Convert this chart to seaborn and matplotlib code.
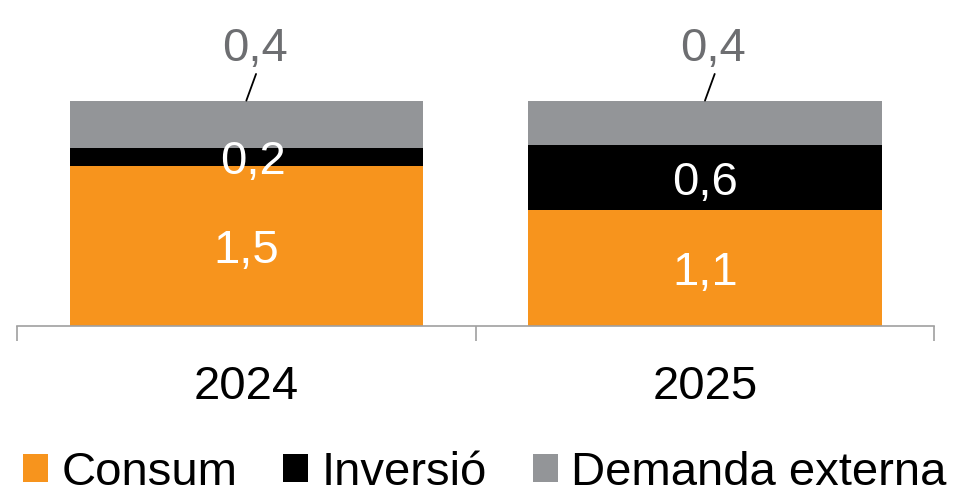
import matplotlib
matplotlib.use("Agg")
import matplotlib.pyplot as plt
import seaborn as sns
import numpy as np
import pandas as pd
from matplotlib.patches import Patch

# data
years = ["2024", "2025"]
consum = [1.50, 1.09]
inversio = [0.17, 0.60]
demanda_externa = [0.44, 0.42]
series_names = ["Consum", "Inversió", "Demanda externa"]

ORANGE = "#F7941D"
BLACK = "#000000"
GREY = "#939598"
LABEL_GREY = "#6D6E71"
AXIS_GREY = "#A0A0A0"

sns.set_style("white")
plt.rcParams["font.family"] = ["Liberation Sans", "DejaVu Sans"]
plt.rcParams["text.color"] = "black"
plt.rcParams["xtick.color"] = "black"
FS = 34


def fmt(v):
    return f"{v:.1f}".replace(".", ",")


df = pd.DataFrame({"year": years, "Consum": consum, "Inversió": inversio,
                   "Demanda externa": demanda_externa})
df["c1"] = df["Consum"]
df["c2"] = df["c1"] + df["Inversió"]
df["c3"] = df["c2"] + df["Demanda externa"]

fig = plt.figure(figsize=(9.62, 4.95), dpi=100)
ax = fig.add_axes([17 / 962, 1 - 326 / 495, 917.3 / 962, 326 / 495])

# stacked bars drawn as overlaid cumulative totals
for col, color in [("c3", GREY), ("c2", BLACK), ("c1", ORANGE)]:
    sns.barplot(data=df, x="year", y=col, color=color, width=0.77,
                saturation=1, ax=ax, linewidth=0)

ax.set_xlim(-0.5, 1.5)
ax.set_ylim(0, 3.052)
ax.set_xlabel("")
ax.set_ylabel("")
ax.set_yticks([])

for s in ["top", "right", "left"]:
    ax.spines[s].set_visible(False)
ax.spines["bottom"].set_color(AXIS_GREY)
ax.spines["bottom"].set_linewidth(1.2)
ax.spines["bottom"].set_zorder(5)

ax.set_xticks([0, 1])
ax.set_xticklabels(years, fontsize=FS, color="black")
ax.tick_params(axis="x", which="major", length=0, pad=28)
ax.set_xticks([-0.5, 0.5, 1.5], minor=True)
ax.tick_params(axis="x", which="minor", bottom=True, length=10.8, width=1.2,
               color=AXIS_GREY, direction="out")

# labels inside segments
for i, row in df.iterrows():
    segs = [(row["Consum"], 0.0), (row["Inversió"], row["c1"])]
    for v, bottom in segs:
        dx = 5 if v < 0.3 else 0
        ax.annotate(fmt(v), xy=(i, bottom + v / 2), xytext=(dx, -3.6),
                    textcoords="offset points", ha="center", va="center",
                    color="white", fontsize=FS, zorder=6)
    # external demand above the bar with a leader line
    ax.annotate("", xy=(i, row["c3"]), xytext=(7, 19.2),
                textcoords="offset points",
                arrowprops=dict(arrowstyle="-", color="black", lw=1.3,
                                shrinkA=0, shrinkB=0))
    ax.annotate(fmt(row["Demanda externa"]), xy=(i, row["c3"]),
                xytext=(6, 28.6), textcoords="offset points",
                ha="center", va="baseline", color=LABEL_GREY, fontsize=FS)

handles = [Patch(facecolor=c, edgecolor="none") for c in [ORANGE, BLACK, GREY]]
fig.legend(handles, series_names, loc="lower center",
           bbox_to_anchor=(0.504, 0.0), ncol=3, frameon=False, fontsize=FS,
           handlelength=0.53, handleheight=0.53, handletextpad=0.28,
           columnspacing=0.97, borderpad=0, borderaxespad=0,
           labelcolor="black")

fig.savefig("out.png", dpi=100)
